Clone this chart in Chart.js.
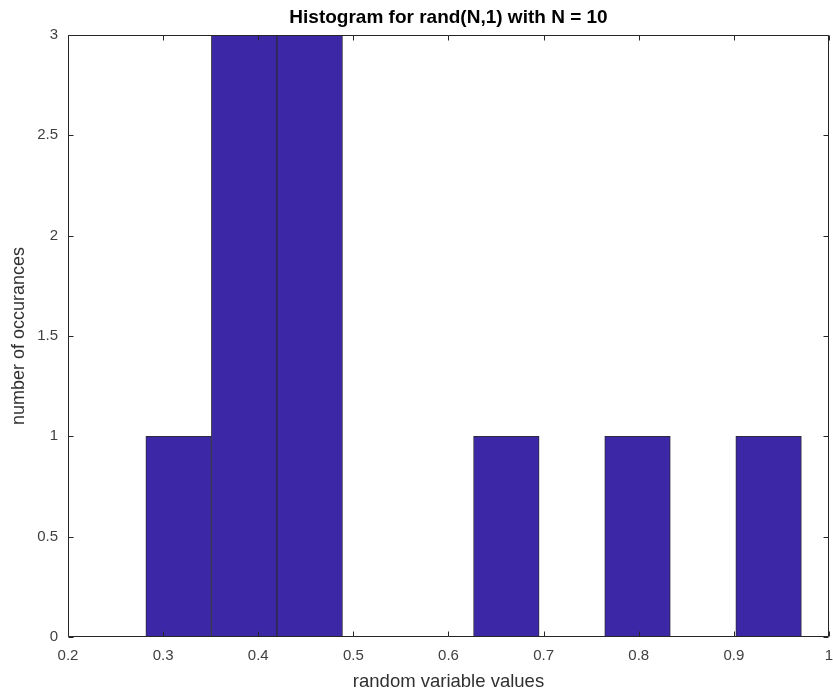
<!DOCTYPE html>
<html>
<head>
<meta charset="utf-8">
<script src="https://cdn.jsdelivr.net/npm/chart.js@4.4.1/dist/chart.umd.min.js"></script>
<style>
  html, body { margin: 0; padding: 0; background: #fff; }
  #wrap { width: 833px; height: 698px; }
</style>
</head>
<body>
<div id="wrap"><canvas id="c" width="833" height="698"></canvas></div>
<script>
// Histogram of 10 uniform samples, 10 bins
const binCenters = [0.3163, 0.3852, 0.4541, 0.5230, 0.5919, 0.6608, 0.7298, 0.7987, 0.8676, 0.9365];
const counts     = [1, 3, 3, 0, 0, 1, 0, 1, 0, 1];
const xTicks = [0.2, 0.3, 0.4, 0.5, 0.6, 0.7, 0.8, 0.9, 1];
const yTicks = [0, 0.5, 1, 1.5, 2, 2.5, 3];

const FONT = '"Liberation Sans", Arial, Helvetica, sans-serif';
const AXIS_COLOR = '#262626';

// Frame around the axes with inward ticks on all four sides
const boxAxes = {
  id: 'boxAxes',
  afterDatasetsDraw(chart) {
    const { ctx, chartArea: a, scales } = chart;
    const L = Math.round(a.left) + 0.5, R = Math.round(a.right) - 0.5;
    const T = Math.round(a.top) + 0.5, B = Math.round(a.bottom) - 0.5;
    const tl = 5;
    ctx.save();
    ctx.strokeStyle = AXIS_COLOR;
    ctx.lineWidth = 1;
    ctx.beginPath();
    ctx.rect(L, T, R - L, B - T);
    for (const v of xTicks) {
      const x = Math.round(scales.x.getPixelForValue(v)) + 0.5;
      ctx.moveTo(x, B); ctx.lineTo(x, B - tl);
      ctx.moveTo(x, T); ctx.lineTo(x, T + tl);
    }
    for (const v of yTicks) {
      const y = Math.round(scales.y.getPixelForValue(v)) + 0.5;
      ctx.moveTo(L, y); ctx.lineTo(L + tl, y);
      ctx.moveTo(R, y); ctx.lineTo(R - tl, y);
    }
    ctx.stroke();
    ctx.restore();
  }
};

// horizontal scales: no extra side padding for edge labels
function fitHorizontal(h) {
  return s => { s.height = h; s.paddingLeft = 0; s.paddingRight = 0; };
}

new Chart(document.getElementById('c'), {
  type: 'bar',
  data: {
    datasets: [{
      data: binCenters.map((x, i) => ({ x: x, y: counts[i] })),
      backgroundColor: 'rgb(60,40,166)',
      borderColor: '#2b2b3d',
      borderWidth: 1,
      borderSkipped: false,
      barPercentage: 1,
      categoryPercentage: 1
    }]
  },
  options: {
    responsive: false,
    animation: false,
    layout: { padding: { left: 0, right: 4, top: 0, bottom: 0 } },
    plugins: {
      legend: { display: false },
      tooltip: { enabled: false }
    },
    scales: {
      x: {
        type: 'linear',
        offset: false,
        min: 0.2, max: 1,
        afterBuildTicks(s) { s.ticks = xTicks.map(v => ({ value: v })); },
        afterFit: fitHorizontal(61),
        grid: { display: false, drawTicks: false },
        border: { display: false },
        ticks: {
          color: '#404040',
          padding: 10,
          maxRotation: 0,
          font: { family: FONT, size: 15 },
          callback: v => String(v)
        },
        title: {
          display: true,
          text: 'random variable values',
          color: '#303030',
          font: { family: FONT, size: 18.5 },
          padding: { top: 0, bottom: 5 }
        }
      },
      // top axis only carries the chart title, centred over the plot area
      top: {
        type: 'linear',
        position: 'top',
        offset: false,
        min: 0.2, max: 1,
        afterFit: fitHorizontal(35),
        grid: { display: false, drawTicks: false },
        border: { display: false },
        ticks: { display: false },
        title: {
          display: true,
          text: 'Histogram for rand(N,1) with N = 10',
          color: '#000',
          font: { family: FONT, size: 19, weight: 'bold' },
          padding: { top: 6, bottom: 0 }
        }
      },
      y: {
        min: 0, max: 3,
        afterBuildTicks(s) { s.ticks = yTicks.map(v => ({ value: v })); },
        afterFit(s) { s.width = 68; s.paddingTop = 0; s.paddingBottom = 0; },
        grid: { display: false, drawTicks: false },
        border: { display: false },
        ticks: {
          color: '#404040',
          padding: 10,
          font: { family: FONT, size: 15 },
          callback: v => String(v)
        },
        title: {
          display: true,
          text: 'number of occurances',
          color: '#303030',
          font: { family: FONT, size: 18 },
          padding: { top: 8, bottom: 0 }
        }
      }
    }
  },
  plugins: [boxAxes]
});
</script>
</body>
</html>
